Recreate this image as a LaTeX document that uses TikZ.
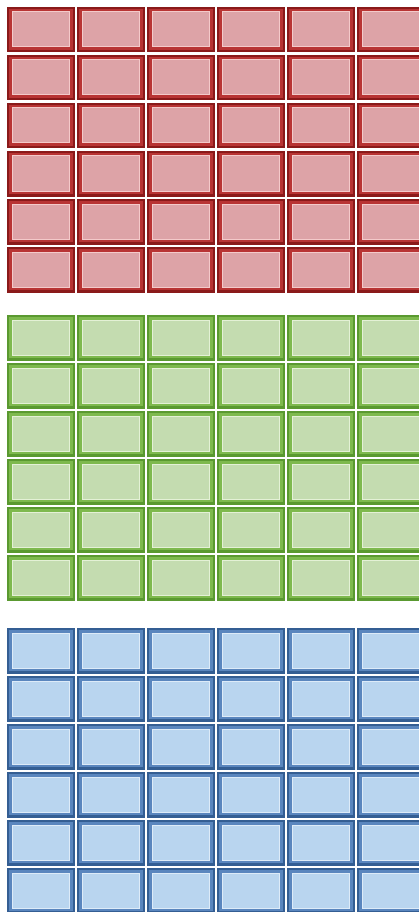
\documentclass[tikz,border=0pt]{standalone}
\usepackage{xcolor}
\usetikzlibrary{calc}

\definecolor{redDark}{HTML}{8A1A1A}
\definecolor{redMid}{HTML}{B83434}
\definecolor{redLight}{HTML}{F4CACA}
\definecolor{redFill}{HTML}{DDA3A7}
\definecolor{greenDark}{HTML}{5A9930}
\definecolor{greenMid}{HTML}{7EB94E}
\definecolor{greenLight}{HTML}{E4F1D6}
\definecolor{greenFill}{HTML}{C4DCB0}
\definecolor{blueDark}{HTML}{345E93}
\definecolor{blueMid}{HTML}{5A86BE}
\definecolor{blueLight}{HTML}{DDEBF8}
\definecolor{blueFill}{HTML}{B9D5EF}

\begin{document}
\begin{tikzpicture}[x=1pt,y=-1pt]
    % Fix the page to the picture size
    \useasboundingbox (0,0) rectangle (419,912);
    \clip (0,0) rectangle (419,912);
    \fill[white] (0,0) rectangle (419,912);

    % Three blocks of 6x6 bevelled tiles
    \foreach \top/\clr in {7/red, 315/green, 628/blue} {
        \foreach \col in {0,...,5} {
            \foreach \row in {0,...,5} {
                \begin{scope}[shift={({7+70*\col},{\top+48*\row})}]
                    % Outer edge, bevel, highlight and face
                    \fill[fill=\clr Dark] (0,0) rectangle (67.5,45.5);
                    \fill[fill=\clr Mid] (2,2) rectangle (65.5,43);
                    \fill[fill=\clr Light] (4.5,4.5) rectangle (63,40.5);
                    \fill[fill=\clr Fill] (5.5,5.5) rectangle (62,39.5);
                \end{scope}
            }
        }
    }
\end{tikzpicture}
\end{document}
